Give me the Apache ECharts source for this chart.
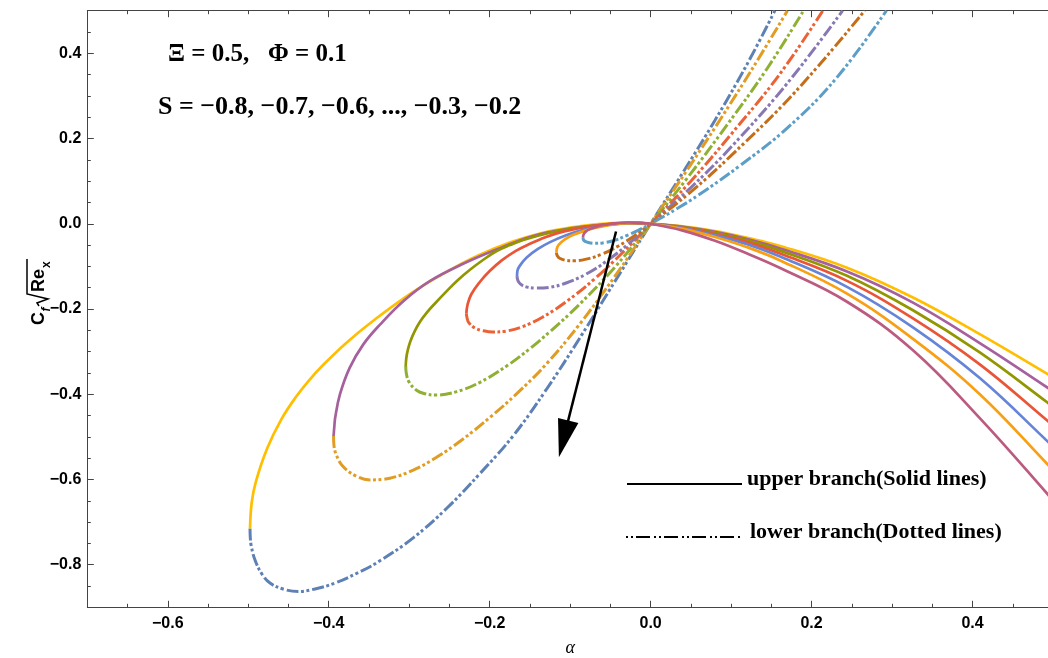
<!DOCTYPE html>
<html>
<head>
<meta charset="utf-8">
<script src="https://cdn.jsdelivr.net/npm/echarts@6/dist/echarts.min.js"></script>
<style>
  html, body { margin: 0; padding: 0; background: #ffffff; }
  #chart { width: 1048px; height: 658px; }
</style>
</head>
<body>
<div id="chart"></div>
<script>
// Suction/injection values S, one upper and one lower branch each
const sValues = ['-0.8', '-0.7', '-0.6', '-0.5', '-0.4', '-0.3', '-0.2'];

// Tick positions
const xMajorTicks = [-0.6, -0.4, -0.2, 0, 0.2, 0.4];
const yMajorTicks = [-0.8, -0.6, -0.4, -0.2, 0, 0.2, 0.4];

// Upper branch (solid) : [alpha, Cf*sqrt(Re_x)]
const upperS08 = [[-0.4978,-0.715],[-0.4957,-0.654],[-0.4905,-0.605],[-0.4764,-0.527],[-0.4589,-0.459],[-0.4406,-0.406],[-0.4252,-0.369],[-0.4067,-0.331],[-0.3779,-0.279],[-0.3415,-0.223],[-0.2960,-0.161],[-0.2546,-0.114],[-0.2136,-0.074],[-0.1733,-0.043],[-0.1341,-0.021],[-0.100,-0.009],[-0.065,-0.001],[-0.030,0.002],[0,0],[0.04,-0.006],[0.08,-0.017],[0.12,-0.033],[0.161,-0.052],[0.244,-0.103],[0.326,-0.173],[0.409,-0.259],[0.4935,-0.353],[0.5,-0.361]];
const upperS07 = [[-0.394,-0.498],[-0.393,-0.475],[-0.392,-0.455],[-0.386,-0.400],[-0.374,-0.338],[-0.357,-0.283],[-0.336,-0.236],[-0.307,-0.181],[-0.274,-0.134],[-0.233,-0.094],[-0.191,-0.060],[-0.150,-0.031],[-0.115,-0.016],[-0.080,-0.006],[-0.045,-0.001],[-0.020,0.002],[0,0],[0.04,-0.007],[0.08,-0.019],[0.12,-0.036],[0.161,-0.058],[0.244,-0.112],[0.326,-0.185],[0.409,-0.280],[0.4935,-0.385],[0.5,-0.394]];
const upperS06 = [[-0.3043,-0.334],[-0.3036,-0.315],[-0.3017,-0.296],[-0.2984,-0.275],[-0.2934,-0.253],[-0.2866,-0.230],[-0.2779,-0.208],[-0.2680,-0.187],[-0.2534,-0.158],[-0.2394,-0.132],[-0.2245,-0.108],[-0.2083,-0.085],[-0.1913,-0.064],[-0.1748,-0.050],[-0.1583,-0.038],[-0.125,-0.021],[-0.090,-0.009],[-0.055,-0.002],[-0.025,0.002],[0,0],[0.04,-0.008],[0.08,-0.021],[0.12,-0.039],[0.161,-0.063],[0.244,-0.122],[0.326,-0.203],[0.409,-0.302],[0.4935,-0.420],[0.5,-0.430]];
const upperS05 = [[-0.229,-0.211],[-0.2275,-0.190],[-0.223,-0.166],[-0.212,-0.136],[-0.200,-0.111],[-0.185,-0.086],[-0.168,-0.064],[-0.150,-0.047],[-0.130,-0.031],[-0.110,-0.019],[-0.085,-0.009],[-0.060,-0.002],[-0.030,0.002],[0,0],[0.04,-0.009],[0.08,-0.024],[0.12,-0.043],[0.161,-0.070],[0.244,-0.134],[0.326,-0.222],[0.409,-0.330],[0.4935,-0.463],[0.5,-0.474]];
const upperS04 = [[-0.166,-0.123],[-0.1655,-0.110],[-0.162,-0.097],[-0.154,-0.079],[-0.140,-0.059],[-0.125,-0.043],[-0.105,-0.027],[-0.085,-0.015],[-0.063,-0.006],[-0.040,0.000],[-0.020,0.002],[0,0],[0.04,-0.010],[0.08,-0.027],[0.12,-0.048],[0.161,-0.077],[0.244,-0.148],[0.326,-0.243],[0.409,-0.362],[0.4935,-0.511],[0.5,-0.524]];
const upperS03 = [[-0.117,-0.068],[-0.1165,-0.058],[-0.114,-0.049],[-0.107,-0.037],[-0.096,-0.026],[-0.083,-0.017],[-0.068,-0.009],[-0.052,-0.003],[-0.035,0.001],[-0.018,0.002],[0,0],[0.04,-0.012],[0.08,-0.031],[0.12,-0.055],[0.161,-0.086],[0.244,-0.164],[0.326,-0.270],[0.409,-0.400],[0.4935,-0.565],[0.5,-0.579]];
const upperS02 = [[-0.084,-0.033],[-0.0835,-0.026],[-0.081,-0.019],[-0.075,-0.012],[-0.066,-0.006],[-0.055,-0.002],[-0.042,0.001],[-0.028,0.003],[-0.014,0.002],[0,0],[0.04,-0.016],[0.08,-0.040],[0.12,-0.070],[0.161,-0.104],[0.244,-0.183],[0.326,-0.297],[0.409,-0.456],[0.4935,-0.635],[0.5,-0.651]];

// Lower branch (dot-dashed)
const lowerS08 = [[-0.4978,-0.715],[-0.4975,-0.735],[-0.4965,-0.754],[-0.4916,-0.789],[-0.483,-0.822],[-0.473,-0.843],[-0.457,-0.857],[-0.438,-0.863],[-0.417,-0.857],[-0.392,-0.843],[-0.367,-0.822],[-0.339,-0.794],[-0.295,-0.737],[-0.253,-0.667],[-0.212,-0.586],[-0.171,-0.498],[-0.130,-0.390],[-0.086,-0.262],[-0.043,-0.131],[0,0],[0.04,0.120],[0.08,0.243],[0.12,0.375],[0.1544,0.5]];
const lowerS07 = [[-0.394,-0.498],[-0.3935,-0.520],[-0.391,-0.540],[-0.383,-0.568],[-0.367,-0.591],[-0.349,-0.601],[-0.324,-0.597],[-0.295,-0.578],[-0.266,-0.548],[-0.233,-0.505],[-0.200,-0.455],[-0.166,-0.398],[-0.130,-0.330],[-0.090,-0.240],[-0.045,-0.125],[0,0],[0.045,0.125],[0.09,0.255],[0.13,0.375],[0.170,0.5]];
const lowerS06 = [[-0.3043,-0.334],[-0.3035,-0.352],[-0.300,-0.372],[-0.290,-0.392],[-0.280,-0.399],[-0.268,-0.402],[-0.241,-0.394],[-0.212,-0.372],[-0.179,-0.334],[-0.150,-0.293],[-0.125,-0.253],[-0.090,-0.192],[-0.045,-0.103],[0,0],[0.045,0.106],[0.095,0.232],[0.145,0.365],[0.190,0.5]];
const lowerS05 = [[-0.229,-0.211],[-0.228,-0.222],[-0.226,-0.232],[-0.218,-0.245],[-0.208,-0.251],[-0.196,-0.254],[-0.180,-0.252],[-0.160,-0.242],[-0.135,-0.220],[-0.105,-0.183],[-0.070,-0.130],[-0.035,-0.068],[0,0],[0.05,0.100],[0.10,0.210],[0.16,0.350],[0.214,0.5]];
const lowerS04 = [[-0.166,-0.123],[-0.165,-0.133],[-0.162,-0.141],[-0.155,-0.148],[-0.142,-0.151],[-0.125,-0.149],[-0.105,-0.139],[-0.080,-0.118],[-0.055,-0.088],[-0.028,-0.048],[0,0],[0.05,0.085],[0.10,0.180],[0.17,0.330],[0.2385,0.5]];
const lowerS03 = [[-0.117,-0.068],[-0.116,-0.075],[-0.113,-0.081],[-0.105,-0.086],[-0.096,-0.087],[-0.080,-0.083],[-0.060,-0.071],[-0.040,-0.052],[-0.020,-0.028],[0,0],[0.05,0.075],[0.10,0.160],[0.18,0.310],[0.266,0.5]];
const lowerS02 = [[-0.084,-0.033],[-0.083,-0.039],[-0.079,-0.043],[-0.070,-0.046],[-0.060,-0.045],[-0.045,-0.039],[-0.030,-0.028],[-0.015,-0.015],[0,0],[0.035,0.038],[0.06,0.068],[0.11,0.135],[0.17,0.225],[0.23,0.340],[0.293,0.5]];

const upperBranches = [upperS08, upperS07, upperS06, upperS05, upperS04, upperS03, upperS02];
const lowerBranches = [lowerS08, lowerS07, lowerS06, lowerS05, lowerS04, lowerS03, lowerS02];

const upperColors = ['#FFBF00', '#A5609D', '#929600', '#E95536', '#6685D9', '#F89F13', '#BC5B80'];
const lowerColors = ['#5E81B5', '#E19C24', '#8FB032', '#EB6235', '#8778B3', '#C56E1A', '#5D9EC7'];

// Direction arrow (data units): from start to head tip
const arrowStart = [-0.043, -0.018];
const arrowTip = [-0.114, -0.548];

const chart = echarts.init(document.getElementById('chart'), null, { renderer: 'canvas' });

const frameColor = '#444444';
const gridBox = { left: 87.3, top: 10.7, width: 965.7, height: 596.6, containLabel: false, outerBoundsMode: 'none' };
const tickLabel = { color: '#000', fontFamily: 'Liberation Sans', fontWeight: 'bold', fontSize: 16 };
const fmt = v => Number(v).toFixed(1).replace('-', '\u2212');
const dotDash = [12, 2.5, 3, 2.5, 3, 3];

function minorX(pos) {
  return {
    gridIndex: 0, type: 'value', position: pos, min: -0.7, max: 0.5, interval: 0.05,
    axisLine: { show: true, onZero: false, lineStyle: { color: frameColor, width: 1 } },
    axisTick: { show: true, inside: true, length: 3.5, lineStyle: { color: frameColor, width: 1 } },
    axisLabel: { show: false }, splitLine: { show: false }
  };
}
function majorX(pos, withLabels) {
  const ax = {
    gridIndex: 1, type: 'value', position: pos, min: -0.7, max: 0.5,
    axisLine: { show: false, onZero: false },
    axisTick: { show: true, inside: true, length: 6.5, customValues: xMajorTicks, lineStyle: { color: frameColor, width: 1 } },
    axisLabel: withLabels ? Object.assign({ show: true, customValues: xMajorTicks, formatter: fmt, margin: 8 }, tickLabel) : { show: false },
    splitLine: { show: false }
  };
  if (withLabels) {
    ax.name = '\u03b1';
    ax.nameLocation = 'middle';
    ax.nameGap = 32;
    ax.nameTextStyle = { fontFamily: 'Liberation Serif', fontStyle: 'italic', fontSize: 18, color: '#000' };
  }
  return ax;
}

const series = [];
lowerBranches.forEach((d, i) => {
  series.push({
    name: 'S = ' + sValues[i] + ' lower', type: 'line', xAxisIndex: 2, yAxisIndex: 1,
    data: d, showSymbol: false, symbol: 'none', smooth: 0.4, z: 3,
    lineStyle: { color: lowerColors[i], width: 3, type: dotDash }
  });
});
upperBranches.forEach((d, i) => {
  series.push({
    name: 'S = ' + sValues[i] + ' upper', type: 'line', xAxisIndex: 2, yAxisIndex: 1,
    data: d, showSymbol: false, symbol: 'none', smooth: 0.4, z: 4,
    lineStyle: { color: upperColors[i], width: 2.7 }
  });
});

chart.setOption({
  animation: false,
  backgroundColor: '#ffffff',
  grid: [Object.assign({}, gridBox), Object.assign({}, gridBox)],
  xAxis: [minorX('bottom'), minorX('top'), majorX('bottom', true), majorX('top', false)],
  yAxis: [
    {
      gridIndex: 0, type: 'value', position: 'left', min: -0.9, max: 0.5, interval: 0.05,
      axisLine: { show: true, onZero: false, lineStyle: { color: frameColor, width: 1 } },
      axisTick: { show: true, inside: true, length: 3.5, lineStyle: { color: frameColor, width: 1 } },
      axisLabel: { show: false }, splitLine: { show: false }
    },
    {
      gridIndex: 1, type: 'value', position: 'left', min: -0.9, max: 0.5,
      axisLine: { show: false, onZero: false },
      axisTick: { show: true, inside: true, length: 6.5, customValues: yMajorTicks, lineStyle: { color: frameColor, width: 1 } },
      axisLabel: Object.assign({ show: true, customValues: yMajorTicks, formatter: fmt, margin: 6 }, tickLabel),
      splitLine: { show: false }
    }
  ],
  series: series
});

// Arrow geometry in pixels, from the data-space endpoints
const p0 = chart.convertToPixel({ gridIndex: 1 }, arrowStart);
const p1 = chart.convertToPixel({ gridIndex: 1 }, arrowTip);
const dx = p1[0] - p0[0], dy = p1[1] - p0[1];
const len = Math.sqrt(dx * dx + dy * dy);
const ux = dx / len, uy = dy / len;
const headLen = 38, headHalf = 10.5;
const bx = p1[0] - ux * headLen, by = p1[1] - uy * headLen;
const nx = -uy, ny = ux;

const legendFont = 'bold 22px "Liberation Serif"';

chart.setOption({
  graphic: [
    { type: 'text', x: 168, y: 55, z: 10, style: { text: '\u039e = 0.5,   \u03a6 = 0.1', font: 'bold 25px "Liberation Serif"', fill: '#000', verticalAlign: 'middle' } },
    { type: 'text', x: 158, y: 107, z: 10, style: { text: 'S = \u22120.8, \u22120.7, \u22120.6, ..., \u22120.3, \u22120.2', font: 'bold 26px "Liberation Serif"', fill: '#000', verticalAlign: 'middle' } },

    { type: 'line', z: 10, shape: { x1: 627, y1: 484, x2: 742, y2: 484 }, style: { stroke: '#000', lineWidth: 2 } },
    { type: 'text', x: 747, y: 479, z: 10, style: { text: 'upper branch(Solid lines)', font: legendFont, fill: '#000', verticalAlign: 'middle' } },
    { type: 'line', z: 10, shape: { x1: 626, y1: 537, x2: 742, y2: 537 }, style: { stroke: '#000', lineWidth: 2, lineDash: [2, 3, 2, 3, 14, 4] } },
    { type: 'text', x: 750, y: 532, z: 10, style: { text: 'lower branch(Dotted lines)', font: legendFont, fill: '#000', verticalAlign: 'middle' } },

    { type: 'line', z: 10, shape: { x1: p0[0], y1: p0[1], x2: bx + ux * 2, y2: by + uy * 2 }, style: { stroke: '#000', lineWidth: 2.5 } },
    { type: 'polygon', z: 10, shape: { points: [[p1[0], p1[1]], [bx + nx * headHalf, by + ny * headHalf], [bx - nx * headHalf, by - ny * headHalf]] }, style: { fill: '#000' } },

    {
      type: 'group', x: 46, y: 289, rotation: Math.PI / 2, z: 10,
      children: [
        { type: 'text', x: -36, y: -6.5, style: { text: 'C', font: 'bold 18px "Liberation Sans"', fill: '#000', verticalAlign: 'middle' } },
        { type: 'text', x: -22.5, y: 1, style: { text: 'f', font: 'italic bold 12px "Liberation Sans"', fill: '#000', verticalAlign: 'middle' } },
        { type: 'polyline', shape: { points: [[-17, -7], [-14, -9], [-10, 2], [-5, -19], [30, -19]] }, style: { stroke: '#000', lineWidth: 1.5, fill: null } },
        { type: 'text', x: -3, y: -6.5, style: { text: 'Re', font: 'bold 18px "Liberation Sans"', fill: '#000', verticalAlign: 'middle' } },
        { type: 'text', x: 21, y: 1, style: { text: 'x', font: 'bold 12px "Liberation Sans"', fill: '#000', verticalAlign: 'middle' } }
      ]
    }
  ]
});
</script>
</body>
</html>
